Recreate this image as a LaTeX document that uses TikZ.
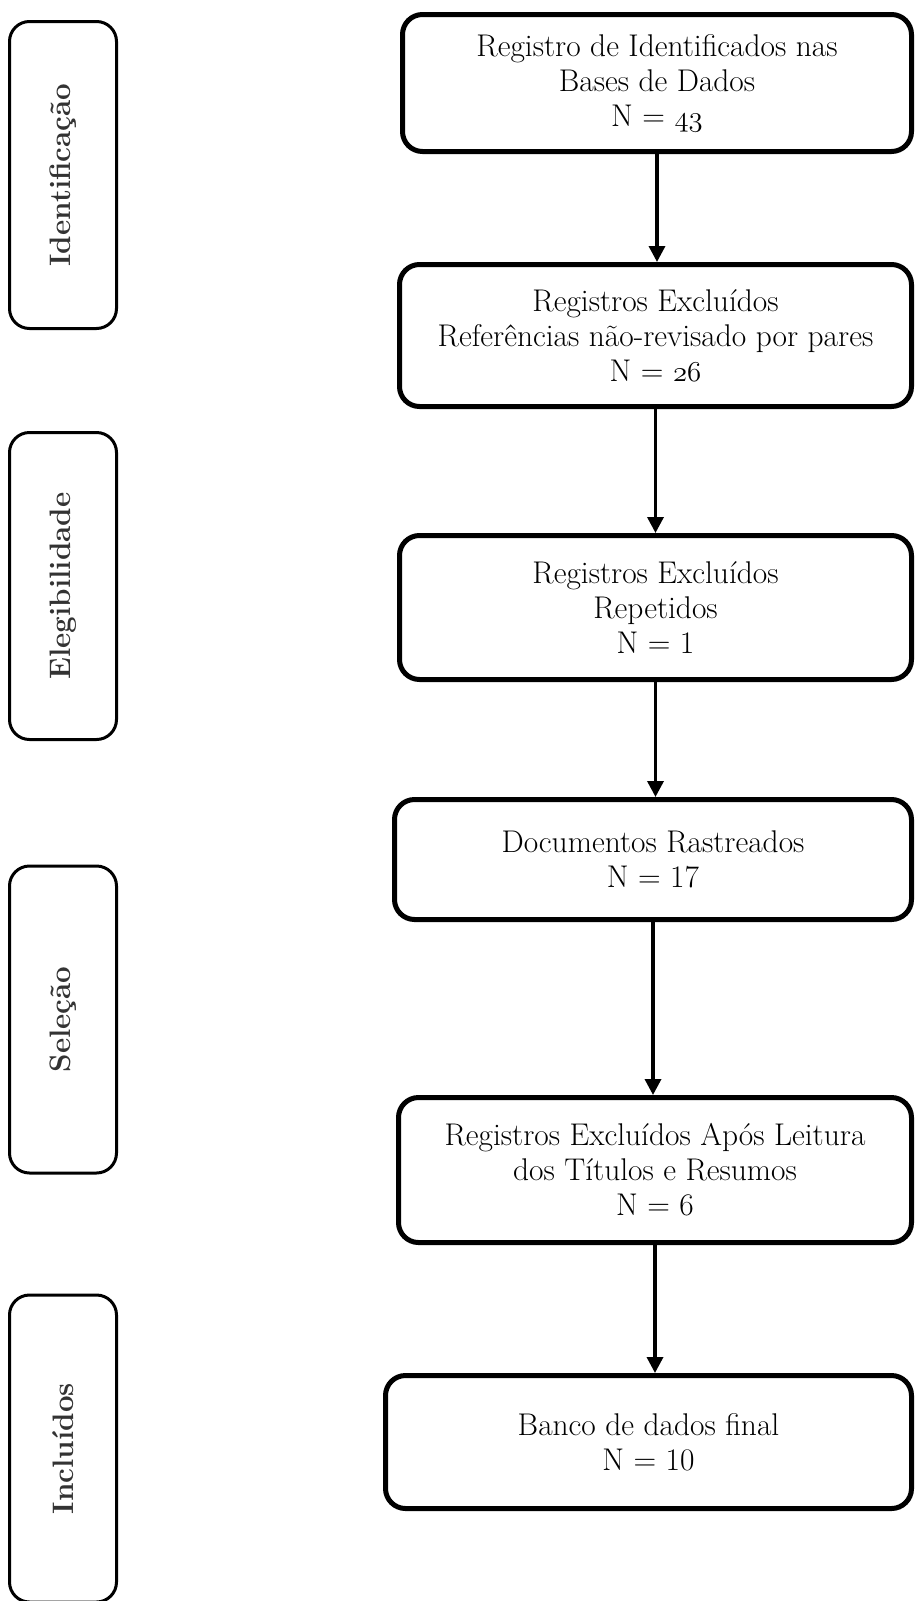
\documentclass[tikz,border=0pt]{standalone}
\usetikzlibrary{arrows.meta}
\definecolor{stageink}{HTML}{333333}
\newcommand{\oldnum}[1]{{\usefont{OML}{cmm}{m}{it}#1}}

\begin{document}
\begin{tikzpicture}[x=.5pt,y=.5pt,
    stagebox/.style={draw=black,line width=1.5pt,rounded corners=10pt,rotate=90,
      minimum width=153.5pt,minimum height=53.5pt,inner sep=0pt,
      text=stageink,font=\fontsize{14.8}{17}\selectfont\bfseries},
    stepbox/.style={draw=black,line width=2.5pt,rounded corners=10pt,
      align=center,inner sep=0pt,font=\fontsize{15.7}{17.5}\selectfont},
    flowarrow/.style={line width=1.7pt,-{Triangle[width=8pt,length=8pt]}}]
  \useasboundingbox (0,0) rectangle (915,-1601);

  % fases
  \node[stagebox] (ident) at (63,-175) {Identificação};
  \node[stagebox] (eleg) at (63,-586) {Elegibilidade};
  \node[stagebox] (selec) at (63,-1019.5) {Seleção};
  \node[stagebox] (incl) at (63,-1448.5) {Incluídos};

  % caixas do fluxo
  \node[stepbox,minimum width=254.5pt,minimum height=68.5pt] (reg) at (657,-83)
    {Registro de Identificados nas\\Bases de Dados\\N = \oldnum{43}};
  \node[stepbox,minimum width=256pt,minimum height=71pt] (naorev) at (655.5,-335.5)
    {Registros Excluídos\\Referências não-revisado por pares\\N = \oldnum{26}};
  \node[stepbox,minimum width=256pt,minimum height=72pt] (repet) at (655.5,-607.5)
    {Registros Excluídos\\Repetidos\\N = 1};
  \node[stepbox,minimum width=258.5pt,minimum height=60pt] (rastr) at (653,-859.5)
    {Documentos Rastreados\\N = 17};
  \node[stepbox,minimum width=256.5pt,minimum height=72.5pt] (leit) at (655,-1170)
    {Registros Excluídos Após Leitura\\dos Títulos e Resumos\\N = 6};
  \node[stepbox,minimum width=263pt,minimum height=66.5pt] (final) at (648.5,-1442)
    {Banco de dados final\\N = 10};

  % setas
  \draw[flowarrow] (reg.south) -- (reg.south |- naorev.north);
  \draw[flowarrow] (naorev.south) -- (naorev.south |- repet.north);
  \draw[flowarrow] (repet.south) -- (repet.south |- rastr.north);
  \draw[flowarrow] (rastr.south) -- (rastr.south |- leit.north);
  \draw[flowarrow] (leit.south) -- (leit.south |- final.north);
\end{tikzpicture}
\end{document}
